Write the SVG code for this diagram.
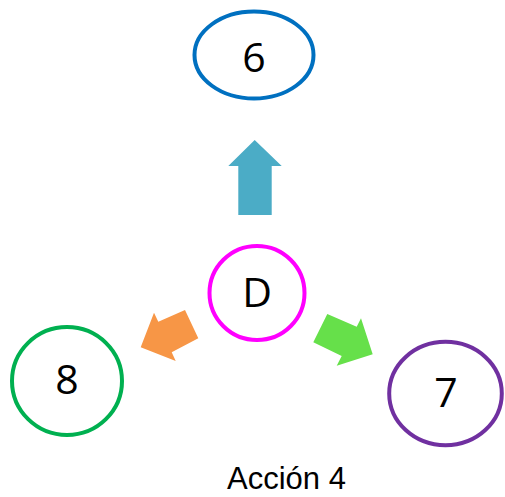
<svg xmlns="http://www.w3.org/2000/svg" width="505" height="497" viewBox="0 0 505 497">
<style>
.n{fill:#fff;stroke-width:4}
.t{font-family:"Open Sans","Liberation Sans",sans-serif;font-size:41px;fill:#000;text-anchor:middle}
.cap{font-family:"Liberation Sans",Arial,sans-serif;font-size:31px;fill:#000;text-anchor:middle}
</style>
<rect width="505" height="497" fill="#fff"/>
<g id="connectors">
<polygon points="254.7,140 281.7,166 271.7,166 271.7,215 238.3,215 238.3,166 228.3,166" fill="#4BACC6"/>
<polygon points="140.7,347.3 154,312.7 158.3,321.7 185,310 198.3,338.3 171.7,352.3 175.7,361" fill="#F79646"/>
<polygon points="327.3,314 356.7,326.7 361,318.3 372.7,354.3 336.7,365.7 341.7,356 313.3,342.3" fill="#66E04A"/>
</g>
<g id="node6">
<ellipse class="n" cx="254" cy="55" rx="59.5" ry="43.5" stroke="#0070C0"/>
<text class="t" x="254" y="72">6</text>
</g>
<g id="nodeD">
<ellipse class="n" cx="257" cy="293" rx="47.5" ry="47" stroke="#FF00FF"/>
<text class="t" x="257" y="307">D</text>
</g>
<g id="node8">
<ellipse class="n" cx="67" cy="381" rx="55" ry="54" stroke="#00B050"/>
<text class="t" x="67" y="394">8</text>
</g>
<g id="node7">
<ellipse class="n" cx="445.5" cy="393.5" rx="56.3" ry="51.7" stroke="#7030A0"/>
<text class="t" x="446" y="407">7</text>
</g>
<text class="cap" x="286.5" y="489">Acción 4</text>
</svg>
